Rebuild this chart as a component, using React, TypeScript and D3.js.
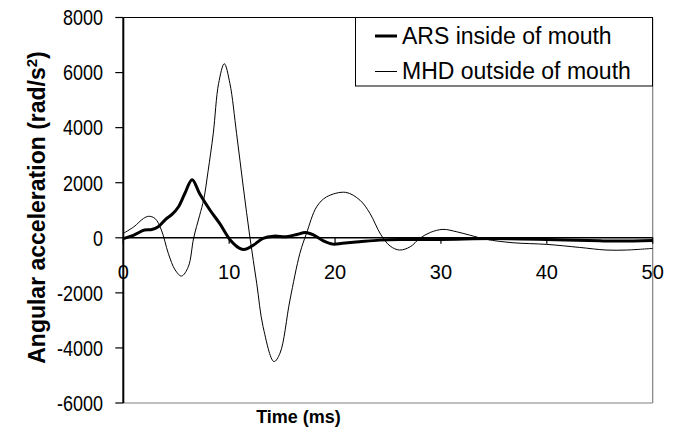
import React from "react";
import * as d3 from "d3";

const arsTime = [0, 1, 2, 2.7, 3.3, 4, 4.6, 5.2, 5.8, 6.5, 7.2, 8.2, 9.1, 10.1, 11, 11.5, 12.3, 13.2, 14.2, 15.4, 16.4, 17.2, 18, 18.9, 19.8, 20.7, 22.3, 24.2, 26, 30, 35, 40, 45, 47, 50];
const arsValues = [-30, 100, 280, 300, 400, 670, 850, 1120, 1600, 2110, 1610, 1000, 520, -80, -385, -420, -265, -20, 60, 40, 120, 195, 100, -110, -230, -200, -145, -85, -60, -60, -30, -60, -110, -120, -100];

const mhdTime = [0, 1, 1.9, 2.4, 3, 3.6, 4.25, 4.9, 5.5, 6.14, 6.65, 7.2, 7.6, 8.0, 8.5, 9.0, 9.54, 10.07, 10.7, 11.33, 11.96, 12.6, 13.2, 14.23, 14.8, 15.74, 16.68, 17.3, 18.26, 19.2, 21, 22.35, 23.3, 24.3, 25.2, 26.1, 27.1, 28, 29, 30.2, 31.5, 32.7, 34.3, 36.8, 40, 43.1, 45.6, 47.5, 50];
const mhdValues = [160, 400, 700, 780, 700, 280, -565, -1170, -1390, -1050, 0, 800, 1400, 2400, 3800, 5600, 6320, 5600, 3785, 1850, 15, -1650, -3225, -4495, -4190, -2260, -565, 160, 1124, 1486, 1650, 1366, 884, 130, -300, -445, -326, -22, 195, 305, 217, 98, -58, -180, -240, -350, -445, -445, -385];

const xTicks = [0, 10, 20, 30, 40, 50];
const yTicks = [8000, 6000, 4000, 2000, 0, -2000, -4000, -6000];
const seriesNames = ["ARS inside of mouth", "MHD outside of mouth"];

const FONT = "'Liberation Sans', Arial, sans-serif";

export default function App() {
  const left = 123.3, right = 652.7, top = 17.5, bottom = 403;
  const x = d3.scaleLinear().domain([0, 50]).range([left, right]);
  const y = d3.scaleLinear().domain([-6000, 8000]).range([bottom, top]);

  const line = d3
    .line<[number, number]>()
    .x((d) => x(d[0]))
    .y((d) => y(d[1]))
    .curve(d3.curveCatmullRom.alpha(0.5));

  const ars = line(arsTime.map((t, i) => [t, arsValues[i]]) as [number, number][]) || "";
  const mhd = line(mhdTime.map((t, i) => [t, mhdValues[i]]) as [number, number][]) || "";

  const y0 = y(0);

  return (
    <svg width={680} height={444} style={{ position: "absolute", left: 0, top: 0, background: "#fff" }} fontFamily={FONT}>
      <rect x={0} y={0} width={680} height={444} fill="#fff" />
      {/* plot border */}
      <line x1={left} x2={right} y1={bottom} y2={bottom} stroke="#808080" strokeWidth={1.2} />
      <line x1={right} x2={right} y1={top} y2={bottom} stroke="#808080" strokeWidth={1.2} />
      <line x1={left} x2={right} y1={top} y2={top} stroke="#000" strokeWidth={1.2} />

      {/* y axis */}
      <line x1={left} x2={left} y1={top} y2={bottom} stroke="#000" strokeWidth={2} />
      {yTicks.map((v) => (
        <g key={v}>
          <line x1={left - 8} x2={left} y1={y(v)} y2={y(v)} stroke="#000" strokeWidth={1.2} />
          <text transform={`translate(103,${y(v)}) scale(1,1.2)`} dy="0.36em" textAnchor="end" fontSize={18} fill="#000">
            {v}
          </text>
        </g>
      ))}

      {/* x axis at zero */}
      <line x1={left} x2={right} y1={y0} y2={y0} stroke="#000" strokeWidth={1.5} />
      {xTicks.map((t) => (
        <g key={t}>
          <line x1={x(t)} x2={x(t)} y1={y0} y2={y0 + 6} stroke="#000" strokeWidth={1.2} />
          <text x={x(t)} y={279} textAnchor="middle" fontSize={20} fill="#000">
            {t}
          </text>
        </g>
      ))}

      {/* series */}
      <path d={mhd} fill="none" stroke="#000" strokeWidth={1} />
      <path d={ars} fill="none" stroke="#000" strokeWidth={3} strokeLinejoin="round" />

      {/* legend */}
      <rect x={355.5} y={17.5} width={297} height={68.5} fill="#fff" stroke="#000" strokeWidth={1} />
      <line x1={375} x2={397} y1={36} y2={36} stroke="#000" strokeWidth={3} />
      <text x={402} y={43.5} fontSize={23} fill="#000">{seriesNames[0]}</text>
      <line x1={375} x2={397} y1={71.5} y2={71.5} stroke="#000" strokeWidth={1} />
      <text x={402} y={78.5} fontSize={23} fill="#000">{seriesNames[1]}</text>

      {/* axis titles */}
      <text x={298.5} y={423} textAnchor="middle" fontSize={18} fontWeight="bold" fill="#000">
        Time (ms)
      </text>
      <text transform="translate(45,207.5) rotate(-90)" textAnchor="middle" fontSize={23} fontWeight="bold" fill="#000">
        Angular acceleration (rad/s<tspan dy={-8} fontSize={15}>2</tspan><tspan dy={8}>)</tspan>
      </text>
    </svg>
  );
}
